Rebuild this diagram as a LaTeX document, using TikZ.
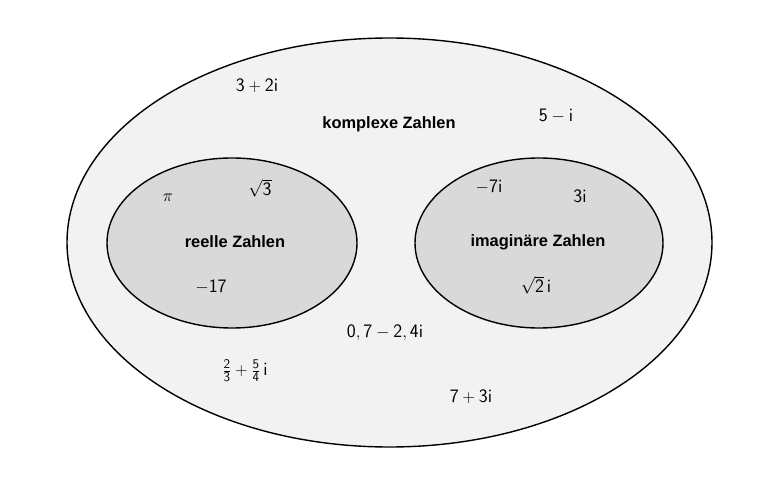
\documentclass[tikz,border=0pt]{standalone}
\usepackage{fontspec}
\newfontfamily\hvbold{Liberation Sans}[BoldFont={* Bold}]
\definecolor{outerfill}{RGB}{242,242,242}
\definecolor{innerfill}{RGB}{217,217,217}
\begin{document}
\begin{tikzpicture}[x=1pt,y=-1pt,
  setline/.style={draw=black,line width=1.4pt},
  lbl/.style={font=\hvbold\bfseries\fontsize{16.4}{19}\selectfont,inner sep=0pt},
  num/.style={font=\fontsize{19}{22}\selectfont,inner sep=0pt}]
\useasboundingbox (0,0) rectangle (768,489);
\fill[white] (0,0) rectangle (768,489);
\draw[setline,fill=outerfill] (389.5,242.5) ellipse [x radius=322.5, y radius=204.5];
\draw[setline,fill=innerfill] (232,243) ellipse [x radius=125, y radius=85];
\draw[setline,fill=innerfill] (539,243) ellipse [x radius=124, y radius=85];
\node[lbl] (komplex) at (389,124) {komplexe Zahlen};
\node[lbl] (reell) at (235,242) {reelle Zahlen};
\node[lbl] (imag) at (538,242) {imaginäre Zahlen};
\node[num] (a) at (257,86) {$\mathsf{3+2i}$};
\node[num] (b) at (556,116) {$\mathsf{5-i}$};
\node[num] (c) at (168,198) {$\pi$};
\node[num] (d) at (260,188) {$\sqrt{\mathsf{3}}$};
\node[num] (e) at (211,287) {$\mathsf{-17}$};
\node[num] (f) at (489,187) {$\mathsf{-7i}$};
\node[num] (g) at (580,196) {$\mathsf{3i}$};
\node[num] (h) at (536,285) {$\sqrt{\mathsf{2}}\,\mathsf{i}$};
\node[num] (k) at (385,333) {$\mathsf{0,7-2,4i}$};
\node[num] (m) at (245,371) {$\frac{\mathsf{2}}{\mathsf{3}}+\frac{\mathsf{5}}{\mathsf{4}}\,\mathsf{i}$};
\node[num] (n) at (471,397) {$\mathsf{7+3i}$};
\end{tikzpicture}
\end{document}
